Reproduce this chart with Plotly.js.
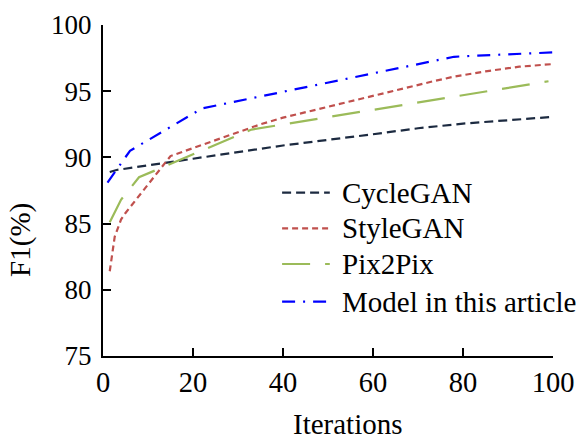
<!DOCTYPE html>
<html>
<head>
<meta charset="utf-8">
<script src="https://cdn.plot.ly/plotly-3.0.1.min.js"></script>
<style>html,body{margin:0;padding:0;background:#fff;}#chart{width:578px;height:442px;}</style>
</head>
<body>
<div id="chart"></div>
<script>
// Series names
const seriesNames = ["CycleGAN", "StyleGAN", "Pix2Pix", "Model in this article"];

// CycleGAN
const xCycle = [1.5, 3, 20, 40, 60, 70, 80, 100.2];
const yCycle = [88.9, 89.05, 89.9, 90.9, 91.75, 92.2, 92.55, 93.07];

// StyleGAN
const xStyle = [1.5, 2.6, 4, 5, 15, 20, 30, 35, 40, 52, 61, 67, 74, 78, 85, 92.5, 100];
const yStyle = [81.4, 84.0, 85.3, 85.8, 90.1, 90.7, 91.9, 92.5, 93.0, 94.0, 94.7, 95.2, 95.8, 96.1, 96.5, 96.85, 97.05];

// Pix2Pix
const xPix = [1.5, 4, 8, 33, 99];
const yPix = [85.1, 86.8, 88.5, 92.1, 95.75];

// Model in this article
const xModel = [1, 6, 22, 78, 82, 101.5];
const yModel = [88.1, 90.5, 93.7, 97.6, 97.67, 97.95];

// Axis ticks
const xTicks = [0, 20, 40, 60, 80, 100];
const yTicks = [75, 80, 85, 90, 95, 100];

const FONT = "Liberation Serif, Times New Roman, serif";

const styles = [
  {color: "#1c2a40", width: 2.2, dash: "9px,5px"},
  {color: "#c0504d", width: 2.2, dash: "6px,4px"},
  {color: "#9bbb59", width: 2.2, dash: "28px,15px"},
  {color: "#0000ff", width: 2.2, dash: "13px,8px,2px,8px"}
];
const xs = [xCycle, xStyle, xPix, xModel];
const ys = [yCycle, yStyle, yPix, yModel];

const traces = seriesNames.map((n, i) => ({
  x: xs[i], y: ys[i], name: n, mode: "lines", cliponaxis: false,
  line: styles[i], showlegend: false
}));

// Manual legend placement (paper coordinates)
const legY = [0.4934, 0.3858, 0.2779, 0.1640];
const legShapes = seriesNames.map((n, i) => ({
  type: "line", xref: "paper", yref: "paper",
  x0: 0.398, x1: 0.504, y0: legY[i], y1: legY[i],
  line: {color: styles[i].color, width: 2.2, dash: styles[i].dash}
}));
const legTexts = seriesNames.map((n, i) => ({
  text: n, xref: "paper", yref: "paper", x: 0.5267, y: legY[i],
  xanchor: "left", yanchor: "middle", showarrow: false,
  font: {family: FONT, size: 29, color: "#000"}
}));

const layout = {
  width: 578, height: 442,
  margin: {l: 103, r: 25, t: 25, b: 86, autoexpand: false},
  paper_bgcolor: "#fff", plot_bgcolor: "#fff",
  font: {family: FONT, size: 28, color: "#000"},
  showlegend: false,
  xaxis: {
    range: [0, 100], tickvals: xTicks, ticktext: xTicks.map(String),
    showgrid: false, zeroline: false, showline: true, linecolor: "#000", linewidth: 2,
    ticks: "inside", ticklen: 8, tickwidth: 2, tickcolor: "#000",
    tickfont: {family: FONT, size: 28.5, color: "#000"}
  },
  yaxis: {
    range: [75, 100], tickvals: yTicks, ticktext: yTicks.map(String),
    showgrid: false, zeroline: false, showline: true, linecolor: "#000", linewidth: 2,
    ticks: "inside", ticklen: 8, tickwidth: 2, tickcolor: "#000",
    tickfont: {family: FONT, size: 27, color: "#000"},
    ticklabelstandoff: 4
  },
  shapes: legShapes,
  annotations: [
    {text: "Iterations", xref: "paper", yref: "paper", x: 0.545, y: -0.205,
     xanchor: "center", yanchor: "middle", showarrow: false,
     font: {family: FONT, size: 29, color: "#000"}},
    {text: "F1(%)", xref: "paper", yref: "paper", x: -0.185, y: 0.35,
     xanchor: "center", yanchor: "middle", showarrow: false, textangle: -90,
     font: {family: FONT, size: 29, color: "#000"}}
  ].concat(legTexts)
};

Plotly.newPlot("chart", traces, layout, {displayModeBar: false, staticPlot: true});
</script>
</body>
</html>
